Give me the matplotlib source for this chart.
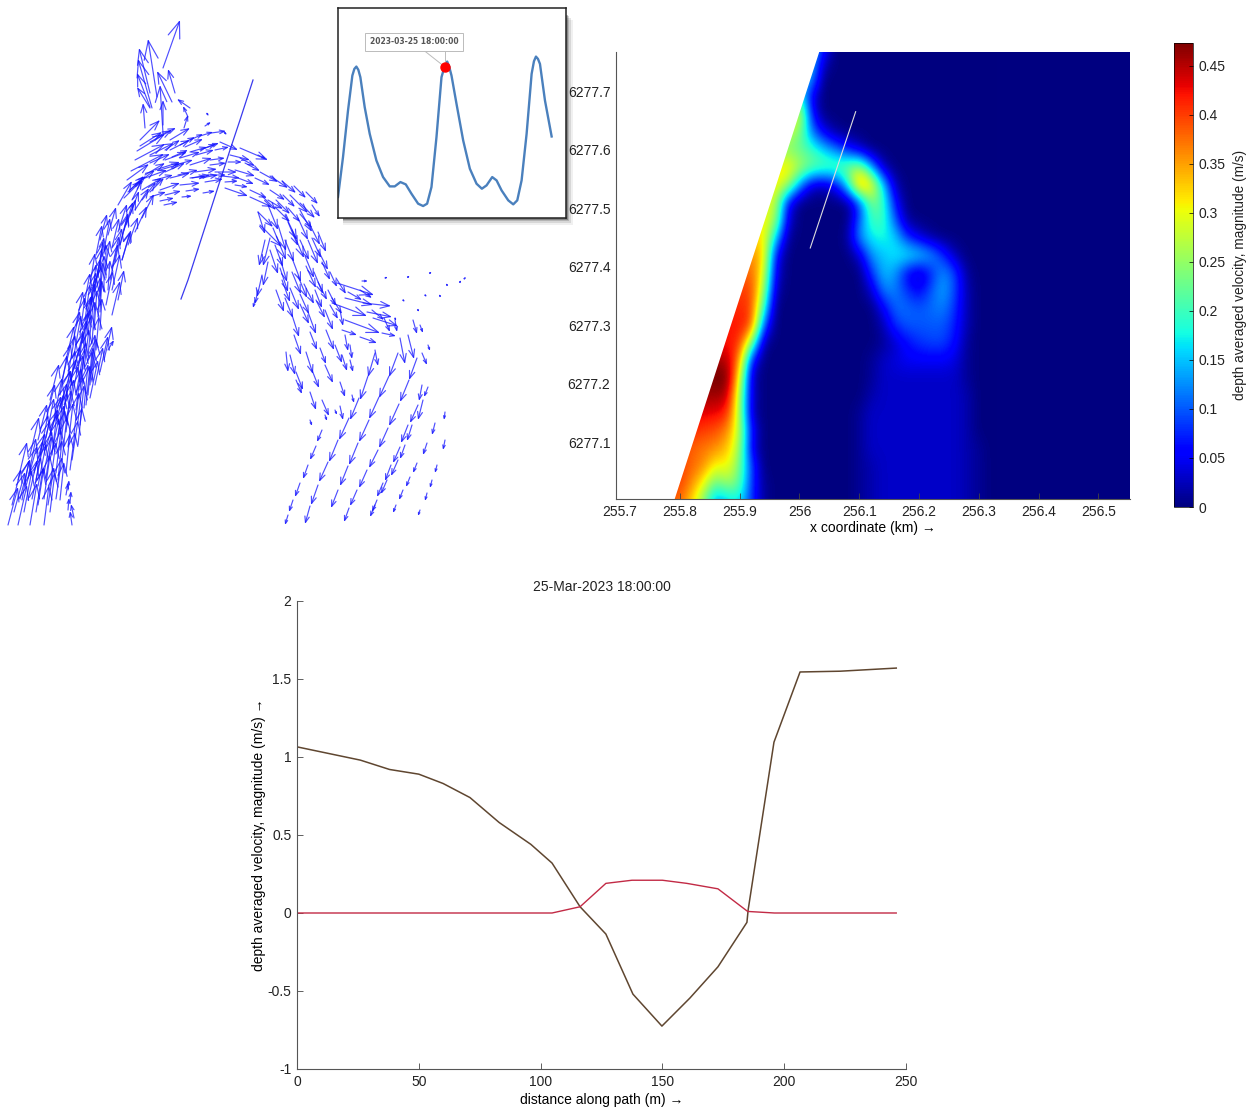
import numpy as np
import matplotlib
matplotlib.use("Agg")
import matplotlib.pyplot as plt
from matplotlib.patches import Rectangle

plt.rcParams['font.family'] = ['Liberation Sans', 'DejaVu Sans']
plt.rcParams['font.size'] = 10

W, H = 1256, 1108

# ---- bottom panel: velocity along the path
dist_a = [0, 26, 38, 50, 60, 71, 83, 96, 104.7, 116.2, 126.8, 137.9, 149.8, 161.3, 172.8, 184.7, 185.2, 195.8, 206.5, 223, 246]
speed_a = [1.065, 0.98, 0.92, 0.89, 0.83, 0.74, 0.58, 0.44, 0.32, 0.04, -0.135, -0.52, -0.725, -0.545, -0.345, -0.06, 0.02, 1.095, 1.545, 1.55, 1.57]
dist_b = [0, 50, 104.7, 116.2, 126.8, 137.5, 150, 160, 172.8, 185, 196, 246]
speed_b = [0, 0, 0, 0.04, 0.19, 0.21, 0.21, 0.19, 0.155, 0.01, 0, 0]

# ---- tide curve in the inset
tide_t = [25, 40, 55, 68, 74, 80, 86, 92, 105, 120, 140, 160, 180, 195, 212, 228, 245, 265, 280, 292, 305, 320, 335, 345, 352, 358, 365, 380, 400, 420, 440, 456, 470, 487, 500, 515, 535, 550, 562, 575, 590, 605, 612, 618, 624, 630, 645, 665]
tide_h = [590, 470, 330, 225, 205, 198, 208, 230, 320, 400, 480, 530, 558, 558, 545, 552, 580, 610, 617, 610, 560, 410, 230, 195, 183, 198, 225, 310, 420, 505, 550, 565, 555, 530, 540, 570, 600, 612, 600, 540, 400, 220, 182, 168, 175, 190, 300, 408]

# ---- heat map, speed in cm/s, x from 255.78 by .02, y from 6277.0 by .03
grid_x = [255.78 + 0.02 * i for i in range(28)]
grid_y = [6277.0 + 0.03 * i for i in range(27)]
speed_grid = [
    [38, 38, 32, 24, 12, 15, 17, 8, 1, 0, 0, 0, 0, 0, 0, 0, 1, 2, 3, 3, 3, 3, 3, 3, 3, 2, 1, 0],
    [40, 40, 36, 30, 22, 26, 22, 8, 1, 0, 0, 0, 0, 0, 0, 0, 1, 2, 3, 3, 3, 3, 3, 3, 3, 2, 1, 0],
    [40, 40, 38, 36, 30, 31, 23, 9, 0, 0, 0, 0, 0, 0, 0, 0, 1, 2, 3, 3, 3, 3, 3, 3, 3, 2, 1, 0],
    [40, 40, 38, 37, 36, 33, 26, 4, 0, 0, 0, 0, 0, 0, 0, 0, 1, 3, 3, 3, 3, 3, 3, 3, 3, 2, 1, 0],
    [42, 42, 41, 40, 39, 36, 27, 6, 0, 0, 0, 0, 0, 0, 0, 0, 1, 3, 3, 3, 3, 3, 3, 3, 3, 2, 0, 0],
    [44, 44, 44, 43, 43, 41, 26, 2, 0, 0, 0, 0, 0, 0, 0, 0, 1, 3, 3, 3, 3, 3, 3, 3, 3, 2, 0, 0],
    [46, 46, 46, 46, 46, 45, 26, 3, 0, 0, 0, 0, 0, 0, 0, 0, 0, 2, 3, 3, 3, 3, 3, 3, 3, 2, 0, 0],
    [47, 47, 47, 47, 48, 48, 30, 2, 0, 0, 0, 0, 0, 0, 0, 0, 0, 1, 3, 3, 3, 3, 3, 3, 3, 1, 0, 0],
    [45, 45, 45, 45, 46, 45, 36, 6, 0, 0, 0, 0, 0, 0, 0, 0, 0, 1, 3, 4, 5, 5, 5, 5, 4, 1, 0, 0],
    [42, 42, 42, 42, 42, 42, 41, 24, 1, 0, 0, 0, 0, 0, 0, 0, 0, 0, 1, 3, 6, 8, 9, 9, 6, 1, 0, 0],
    [42, 42, 42, 42, 42, 42, 42, 40, 10, 0, 0, 0, 0, 0, 0, 0, 0, 0, 2, 8, 10, 10, 10, 10, 7, 2, 0, 0],
    [41, 41, 41, 41, 41, 41, 41, 40, 20, 0, 0, 0, 0, 0, 0, 0, 0, 0, 5, 11, 11, 10, 11, 12, 8, 2, 0, 0],
    [40, 40, 40, 40, 40, 40, 40, 40, 26, 2, 0, 0, 0, 0, 0, 0, 0, 3, 12, 12, 8, 5, 10, 14, 9, 2, 0, 0],
    [38, 38, 38, 38, 38, 38, 38, 38, 30, 4, 0, 0, 0, 0, 0, 0, 0, 8, 15, 13, 5, 2, 7, 13, 9, 1, 0, 0],
    [36, 36, 36, 36, 36, 36, 36, 36, 33, 6, 0, 0, 0, 0, 0, 0, 3, 13, 15, 17, 18, 17, 14, 8, 2, 0, 0, 0],
    [32, 32, 32, 32, 32, 32, 32, 32, 32, 16, 1, 0, 0, 0, 0, 1, 13, 17, 18, 16, 8, 4, 1, 0, 0, 0, 0, 0],
    [31, 31, 31, 31, 31, 31, 31, 31, 31, 26, 4, 0, 0, 0, 0, 0, 10, 20, 20, 10, 1, 0, 0, 0, 0, 0, 0, 0],
    [30, 30, 30, 30, 30, 30, 30, 30, 30, 28, 6, 0, 0, 0, 0, 0, 8, 24, 20, 6, 0, 0, 0, 0, 0, 0, 0, 0],
    [31, 31, 31, 31, 31, 31, 31, 31, 31, 31, 27, 13, 3, 2, 5, 17, 38, 33, 16, 2, 0, 0, 0, 0, 0, 0, 0, 0],
    [32, 32, 32, 32, 32, 32, 32, 32, 32, 32, 32, 27, 23, 22, 22, 24, 27, 14, 2, 0, 0, 0, 0, 0, 0, 0, 0, 0],
    [24, 24, 24, 24, 24, 24, 24, 24, 24, 24, 24, 22, 20, 16, 12, 7, 3, 0, 0, 0, 0, 0, 0, 0, 0, 0, 0, 0],
    [28, 28, 28, 28, 28, 28, 28, 28, 28, 28, 28, 24, 12, 5, 1, 0, 0, 0, 0, 0, 0, 0, 0, 0, 0, 0, 0, 0],
    [30, 30, 30, 30, 30, 30, 30, 30, 30, 30, 30, 30, 7, 0, 0, 0, 0, 0, 0, 0, 0, 0, 0, 0, 0, 0, 0, 0],
    [20, 20, 20, 20, 20, 20, 20, 20, 20, 20, 20, 20, 4, 0, 0, 0, 0, 0, 0, 0, 0, 0, 0, 0, 0, 0, 0, 0],
    [15, 15, 15, 15, 15, 15, 15, 15, 15, 15, 15, 15, 14, 0, 0, 0, 0, 0, 0, 0, 0, 0, 0, 0, 0, 0, 0, 0],
    [16, 16, 16, 16, 16, 16, 16, 16, 16, 16, 16, 16, 16, 3, 0, 0, 0, 0, 0, 0, 0, 0, 0, 0, 0, 0, 0, 0],
    [16, 16, 16, 16, 16, 16, 16, 16, 16, 16, 16, 16, 16, 8, 0, 0, 0, 0, 0, 0, 0, 0, 0, 0, 0, 0, 0, 0],
]
coast_x = [255.786, 256.036]
coast_y = [6276.99, 6277.78]
path_x = [256.094, 256.018]
path_y = [6277.665, 6277.432]
heat_xticks = [255.7, 255.8, 255.9, 256, 256.1, 256.2, 256.3, 256.4, 256.5]
heat_yticks = [6277.1, 6277.2, 6277.3, 6277.4, 6277.5, 6277.6, 6277.7]
bar_ticks = [0, 0.05, 0.1, 0.15, 0.2, 0.25, 0.3, 0.35, 0.4, 0.45]

# ---- vector field, tails and components in map pixels
north_x = [163, 157, 150, 152, 150, 145, 150, 172, 175, 163, 163, 184, 188, 190, 208, 205, 224, 140]
north_y = [68, 97, 93, 108, 107, 128, 108, 102, 93, 133, 125, 128, 117, 108, 115, 126, 132, 140]
north_u = [17, -9, -11, -14, -13, -2, -13, -15, -7, -3, 0, 4, -5, -13, -2, 6, 3, 20]
north_v = [-48, -58, -45, -49, -34, -25, -21, -31, -24, -48, -25, -13, -11, -9, -3, -4, 3, -20]

arch_x = [137, 135, 131, 150, 165, 170, 180, 190, 200, 211, 172, 190, 205, 220, 240, 258, 155, 175, 190, 210, 230, 245, 260,
          155, 170, 195, 215, 235, 255, 270, 135, 160, 180, 205, 225, 235, 250, 268, 283, 160, 182, 203, 225, 250,
          290, 300, 275, 258, 260, 127, 145, 165, 240, 200,
          140, 150, 158, 170, 185, 200, 215, 150, 165, 180, 196, 210, 228, 145, 160, 178, 192, 208, 222, 238, 128, 142,
          118, 124, 130, 150, 165, 186, 164, 190, 270, 282, 294, 306, 262, 276, 288, 300, 312]
arch_y = [151, 160, 171, 155, 150, 140, 145, 140, 136, 133, 157, 152, 148, 142, 148, 155, 170, 165, 165, 160, 155, 163, 172,
          180, 178, 172, 172, 170, 178, 190, 185, 190, 185, 182, 182, 185, 190, 200, 195, 201, 197, 193, 188, 197,
          195, 203, 207, 212, 225, 180, 175, 172, 158, 178,
          146, 142, 136, 150, 147, 150, 150, 163, 160, 158, 155, 165, 162, 178, 170, 175, 178, 175, 176, 178, 192, 190,
          205, 198, 190, 197, 195, 191, 205, 178, 176, 181, 186, 192, 196, 200, 208, 214, 205]
arch_u = [28, 30, 33, 24, 15, 20, 15, 13, 13, 15, 16, 17, 14, 18, 28, 8, 25, 18, 22, 15, 20, 15, 18,
          18, 20, 22, 22, 20, 15, 15, 20, 20, 20, 18, 13, 13, 17, 15, 12, 14, 10, 12, 23, 22,
          18, 15, 15, 15, 22, 22, 20, 20, 15, 18,
          22, 22, 18, 20, 18, 16, 14, 20, 22, 20, 18, 16, 14, 22, 20, 20, 18, 18, 18, 16, 16, 20,
          14, 18, 16, 16, 16, 14, 14, 16, 18, 14, 12, 12, 14, 14, 12, 12, 8]
arch_v = [-17, -16, -17, -12, -10, -12, -8, -6, -4, -2, -7, -5, -5, 8, 12, 4, -8, -5, -7, -2, 5, 8, 10,
          -5, -5, -3, 0, 6, 7, 10, -15, -7, -2, -3, -1, 2, 8, 9, 12, -3, -1, -2, 8, 10,
          18, 15, 15, 15, 22, -16, -12, -9, 8, -3,
          -14, -12, -8, -10, -8, -6, -3, -9, -8, -6, -5, -2, 0, -8, -6, -5, -3, 0, 2, 6, -16, -12,
          -24, -18, -14, -5, -4, -2, -3, -2, 12, 12, 12, 12, 14, 14, 14, 14, 12]

# the strands on the west side, heads point up
west_x = [8, 18, 30, 44, 14, 24, 36, 50, 20, 32, 44, 56, 26, 38, 50, 34, 44, 56, 66, 40, 50, 62, 72, 46, 56, 68, 50, 60, 74,
          56, 66, 78, 60, 70, 84, 66, 76, 88, 70, 80, 92, 74, 84, 78, 88, 82, 92, 84, 94, 88, 98, 90, 100, 94, 104, 97, 106, 100,
          90, 95, 100, 104, 108, 112, 106, 110, 115, 120, 124, 130, 132, 112, 118, 122, 72, 68, 66, 74, 70, 68]
west_y = [525, 525, 525, 525, 512, 512, 512, 512, 499, 499, 499, 499, 486, 486, 486, 473, 473, 473, 473, 460, 460, 460, 460, 447, 447, 447, 434, 434, 434,
          421, 421, 421, 408, 408, 408, 395, 395, 395, 382, 382, 382, 369, 369, 356, 356, 343, 343, 330, 330, 317, 317, 304, 304, 291, 291, 278, 278, 265,
          398, 385, 372, 360, 350, 290, 305, 280, 262, 245, 230, 215, 200, 315, 300, 260, 525, 510, 495, 518, 503, 490]
west_u = [10, 9, 7, 5, 11, 8, 7, 5, 10, 9, 6, 6, 11, 8, 6, 11, 8, 5, 4, 10, 9, 5, 6, 12, 8, 5, 11, 7, 5,
          11, 8, 5, 11, 8, 4, 10, 7, 4, 10, 6, 4, 9, 5, 9, 4, 8, 3, 7, 3, 7, 2, 6, 1, 6, 0, 5, 0, 4,
          8, 8, 8, 8, 6, 8, 7, 8, 7, 8, 9, 9, 10, 8, 6, 8, -2, 1, 2, -3, 1, 1]
west_v = [-38, -40, -42, -40, -40, -42, -44, -40, -40, -42, -44, -42, -40, -42, -44, -40, -42, -44, -40, -40, -42, -44, -40, -38, -42, -44, -38, -42, -42,
          -38, -42, -44, -38, -42, -44, -36, -40, -44, -36, -40, -44, -36, -40, -36, -42, -34, -42, -34, -40, -34, -40, -32, -38, -32, -36, -30, -34, -28,
          -38, -38, -36, -34, -10, -36, -34, -36, -34, -32, -28, -24, -20, -34, -30, -28, -14, -12, -12, -14, -12, -10]

west2_x = [12, 22, 28, 38, 48, 60, 18, 28, 36, 46, 58, 70, 30, 40, 52, 60, 78, 38, 46, 58, 66, 80, 46, 54, 64, 76, 86, 50, 60, 70, 80, 90,
           62, 68, 78, 92, 66, 74, 84, 96, 72, 80, 88, 100, 76, 85, 92, 100, 84, 92, 100, 108, 90, 98, 105, 112, 96, 104, 112, 120,
           100, 108, 118, 126, 135, 142, 150, 122, 128, 135, 142]
west2_y = [505, 500, 500, 505, 505, 500, 480, 478, 480, 478, 480, 470, 455, 455, 455, 450, 445, 440, 438, 435, 432, 425, 420, 418, 412, 410, 405, 400, 395, 392, 390, 385,
           380, 375, 372, 370, 360, 355, 352, 350, 345, 335, 335, 330, 325, 320, 315, 312, 305, 300, 296, 290, 285, 275, 270, 268, 255, 250, 248, 245,
           240, 235, 232, 225, 210, 200, 192, 260, 245, 232, 218]
west2_u = [9, 7, 9, 6, 6, 4, 9, 8, 7, 6, 4, 5, 9, 8, 5, 5, 4, 9, 8, 6, 5, 4, 9, 8, 6, 5, 4, 9, 7, 5, 5, 3,
           9, 7, 5, 3, 8, 7, 4, 3, 8, 5, 4, 2, 7, 5, 4, 2, 6, 4, 3, 2, 5, 5, 5, 7, 6, 6, 7, 8,
           7, 8, 9, 10, 14, 14, 14, 9, 10, 12, 12]
west2_v = [-36, -40, -40, -38, -38, -38, -38, -40, -40, -42, -40, -38, -38, -40, -42, -40, -38, -36, -40, -42, -42, -40, -36, -40, -42, -42, -40, -36, -40, -42, -42, -38,
           -36, -40, -42, -36, -34, -40, -40, -34, -34, -38, -40, -32, -34, -36, -38, -32, -32, -36, -34, -30, -32, -34, -30, -32, -30, -32, -30, -30,
           -26, -28, -28, -26, -22, -18, -14, -30, -28, -26, -24]

east_x = [258, 270, 273, 268, 285, 300, 292, 310, 265, 275, 285, 300, 312, 268, 262, 258, 255, 280, 292, 305, 318, 330, 282, 298, 314, 328, 285, 300, 315, 330,
          292, 308, 325, 340, 345, 294, 310, 326, 342, 290, 306, 320, 335, 350, 296, 312, 325, 340, 286, 296, 310, 322, 340, 352,
          337, 345, 363, 332, 367, 345, 373, 342, 360, 382, 400, 408, 420, 428, 310, 325, 335, 422, 413,
          278, 288, 298, 308, 318, 270, 280, 292, 306, 322, 276, 290, 304, 318, 336, 300, 316, 332, 348, 360, 372, 384, 350, 375, 395]
east_y = [212, 238, 228, 205, 215, 210, 230, 225, 240, 245, 240, 240, 238, 262, 275, 290, 300, 258, 258, 256, 250, 272, 280, 276, 272, 290, 298, 294, 290, 305,
          315, 312, 310, 310, 335, 335, 332, 330, 355, 355, 352, 348, 345, 360, 372, 370, 365, 382, 352, 380, 392, 400, 406, 395,
          283, 298, 303, 303, 312, 320, 318, 330, 337, 333, 338, 335, 325, 345, 420, 415, 410, 353, 320,
          225, 222, 218, 240, 232, 250, 268, 272, 266, 262, 290, 288, 284, 282, 278, 304, 300, 298, 292, 290, 310, 318, 345, 350, 320]
east_u = [7, -7, 13, 10, 12, 12, 12, 10, -6, 8, 9, 9, 9, -5, -5, -3, -2, 7, 9, 9, 10, 7, 8, 9, 9, 8, 8, 9, 7, 8,
          7, 8, 8, 3, 3, 7, 7, 8, 5, 5, 7, 6, 7, 3, 7, 7, 8, 5, 2, 6, 6, 7, 3, 2,
          37, 28, 28, 35, 25, 35, 25, 15, 17, 14, 5, 6, 3, 2, 2, 2, 2, 5, 4,
          8, 10, 10, 10, 8, 8, 8, 9, 10, 8, 8, 9, 10, 9, 10, 9, 9, 10, 14, 12, 12, 6, 2, 3, 2]
east_v = [22, 28, 32, 25, 25, 22, 28, 20, 26, 22, 22, 20, 20, 24, 22, 14, 8, 24, 24, 22, 20, 15, 22, 22, 22, 16, 20, 20, 18, 14,
          22, 22, 20, 16, 16, 20, 18, 20, 16, 20, 22, 16, 18, 12, 18, 18, 18, 15, 20, 14, 18, 16, 14, 8,
          12, 7, 3, 13, 5, 13, 8, 5, 6, 3, 26, 24, 8, 6, 6, 6, 5, 12, 14,
          26, 24, 22, 24, 20, 24, 24, 22, 22, 18, 22, 22, 20, 18, 16, 20, 18, 16, 8, 8, 10, 14, 14, 16, 12]

# long chains running to the bottom edge
south_x = [322, 316, 308, 300, 293, 288,
           375, 368, 359, 349, 338, 328, 318, 310,
           398, 389, 379, 369, 358, 348, 338,
           417, 409, 399, 388, 378, 367, 357, 349,
           422, 418, 408, 400, 391, 383, 375,
           428, 423, 412, 405, 398, 387, 377,
           435, 427, 417, 410, 403, 396,
           445, 445, 437, 432, 427, 420,
           362, 385, 408, 430, 403, 425, 447, 465, 395, 418, 440, 460]
south_y = [430, 446, 465, 483, 500, 515,
           353, 376, 398, 418, 440, 462, 485, 506,
           353, 376, 397, 420, 443, 466, 490,
           358, 380, 404, 428, 450, 470, 490, 508,
           385, 405, 425, 447, 465, 483, 505,
           387, 400, 425, 445, 460, 480, 500,
           423, 443, 463, 477, 490, 505,
           412, 440, 465, 480, 493, 510,
           281, 278, 277, 273, 300, 295, 285, 278, 318, 310, 296, 282]
south_u = [-5, -6, -5, -5, -4, -3,
           -7, -8, -9, -10, -9, -9, -7, -5,
           -9, -10, -10, -10, -9, -8, -7,
           -8, -9, -10, -9, -9, -8, -7, -5,
           -3, -8, -7, -7, -6, -6, -5,
           -4, -5, -5, -5, -7, -6, -5,
           -3, -4, -4, -4, -4, -3,
           -1, -2, -2, -2, -2, -2,
           6, 3, 2, 2, 2, 2, -1, 1, 1, 1, -1, 1]
south_v = [12, 14, 14, 14, 12, 10,
           24, 24, 22, 22, 22, 20, 20, 18,
           24, 22, 22, 22, 22, 20, 18,
           22, 22, 22, 20, 18, 18, 16, 14,
           16, 18, 18, 16, 16, 14, 12,
           10, 20, 16, 14, 16, 14, 12,
           12, 12, 10, 10, 10, 8,
           8, 10, 8, 8, 8, 6,
           0, -1, -1, -1, 2, 2, -2, -1, 3, 2, -2, -2]

section_x = [253, 240, 230, 218, 188, 181]
section_y = [80, 120, 150, 187, 280, 299]


def px_axes(x0, y0, x1, y1, **kw):
    # axes box given in image pixels
    return fig.add_axes([x0 / W, 1 - y1 / H, (x1 - x0) / W, (y1 - y0) / H], **kw)


def matlab_style(ax):
    ax.spines['top'].set_visible(False)
    ax.spines['right'].set_visible(False)
    for s in ['left', 'bottom']:
        ax.spines[s].set_color('#555555')
        ax.spines[s].set_linewidth(0.8)
    ax.tick_params(direction='in', length=4, width=0.6, color='#444444', labelcolor='#222222', labelsize=10, pad=4)


fig = plt.figure(figsize=(W / 100, H / 100), dpi=100)

# vector plot
ax_vec = px_axes(0, 0, 470, 527)
ax_vec.set_xlim(0, 470)
ax_vec.set_ylim(527, 0)
ax_vec.axis('off')
for xs, ys, us, vs in [(north_x, north_y, north_u, north_v), (arch_x, arch_y, arch_u, arch_v),
                       (west_x, west_y, west_u, west_v), (west2_x, west2_y, west2_u, west2_v),
                       (east_x, east_y, east_u, east_v), (south_x, south_y, south_u, south_v)]:
    for x, y, u, v in zip(xs, ys, us, vs):
        n = max(np.hypot(u, v), 3)
        ax_vec.annotate('', xy=(x + u, y + v), xytext=(x, y), annotation_clip=False,
                        arrowprops=dict(arrowstyle='->,head_length=0.32,head_width=0.12', color='#1414ff', alpha=0.75,
                                        lw=0.85, shrinkA=0, shrinkB=0, mutation_scale=n * 0.72))
ax_vec.plot(section_x, section_y, color='#3a3aee', lw=0.9)

# inset with shadow, behind all the axes
for off, a in [(7, 0.06), (5, 0.1), (3, 0.16), (1.5, 0.25)]:
    fig.add_artist(Rectangle((343 / W, 1 - (218 + off) / H), (223 + off) / W, 205 / H, transform=fig.transFigure,
                             facecolor='black', edgecolor='none', alpha=a, zorder=-5))
ax_in = px_axes(338, 8, 566, 218)
ax_in.set_zorder(3)
ax_in.set_xlim(25, 708)
ax_in.set_ylim(653, 22)
ax_in.set_xticks([])
ax_in.set_yticks([])
for s in ax_in.spines.values():
    s.set_linewidth(1.1)
    s.set_color('#222222')
ax_in.plot(tide_t, tide_h, color='#4a80bd', lw=1.7)
ax_in.plot([278, 340], [146, 195], color='#bbbbbb', lw=0.7)
ax_in.plot([347, 347], [146, 190], color='#bbbbbb', lw=0.7)
ax_in.plot([345], [198], 'o', color='red', ms=6.5, zorder=5)
ax_in.text(253, 123, '2023-03-25 18:00:00', ha='center', va='center', fontsize=5.5, fontweight='bold', color='#555555',
           bbox=dict(boxstyle='square,pad=0.6', fc='white', ec='#bbbbbb', lw=0.7), family=['DejaVu Sans'])

# heat map, the white land stays under the spines
ax_heat = px_axes(616, 52, 1130, 499)
ax_heat.set_facecolor(plt.cm.jet(0))
im = ax_heat.imshow(np.array(speed_grid) / 100, origin='lower', cmap='jet', vmin=0, vmax=0.473, aspect='auto',
                    interpolation='bicubic',
                    extent=[grid_x[0] - 0.01, grid_x[-1] + 0.01, grid_y[0] - 0.015, grid_y[-1] + 0.015])
ax_heat.fill_betweenx(coast_y, 255.6, coast_x, color='white', lw=0, zorder=2)
ax_heat.plot(path_x, path_y, color='#dddddd', lw=0.8, zorder=4)
ax_heat.set_xlim(255.693, 256.553)
ax_heat.set_ylim(6277.003, 6277.767)
matlab_style(ax_heat)
ax_heat.set_xticks(heat_xticks)
ax_heat.set_xticklabels(['255.7', '255.8', '255.9', '256', '256.1', '256.2', '256.3', '256.4', '256.5'])
ax_heat.set_yticks(heat_yticks)
ax_heat.set_yticklabels([f'{v:.1f}' for v in heat_yticks])
ax_heat.set_xlabel('x coordinate (km) →', labelpad=2)

cax = px_axes(1174, 43, 1193, 507)
cb = fig.colorbar(im, cax=cax)
cb.set_ticks(bar_ticks)
cb.set_ticklabels(['0', '0.05', '0.1', '0.15', '0.2', '0.25', '0.3', '0.35', '0.4', '0.45'])
cb.outline.set_linewidth(0.5)
cax.tick_params(length=3, width=0.5, direction='in', labelsize=10, pad=4, labelcolor='#222222')
cb.set_label('depth averaged velocity, magnitude (m/s)', fontsize=9.8, color='#222222', labelpad=5)

# line plot at the bottom
ax_line = px_axes(297, 601, 906, 1069)
ax_line.plot(dist_a, speed_a, color='#5f4630', lw=1.1)
ax_line.plot(dist_b, speed_b, color='#c22a45', lw=1.0)
ax_line.set_xlim(0, 250)
ax_line.set_ylim(-1, 2)
matlab_style(ax_line)
ax_line.set_xticks([0, 50, 100, 150, 200, 250])
ax_line.set_yticks([-1, -0.5, 0, 0.5, 1, 1.5, 2])
ax_line.set_yticklabels(['-1', '-0.5', '0', '0.5', '1', '1.5', '2'])
ax_line.set_xlabel('distance along path (m) →', labelpad=3)
ax_line.set_ylabel('depth averaged velocity, magnitude (m/s) →', labelpad=1)
ax_line.set_title('25-Mar-2023 18:00:00', fontsize=10, pad=7, color='#222222')

fig.savefig('out.png', dpi=100)
